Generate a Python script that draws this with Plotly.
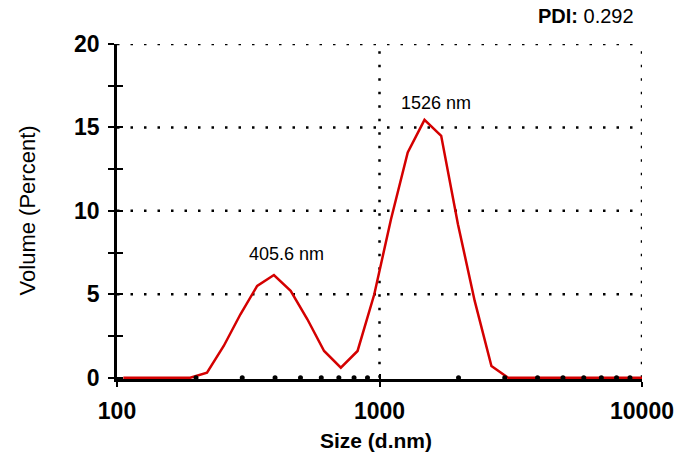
import math
import plotly.graph_objects as go

# ---- data ----
size_nm = [105.7, 122.4, 141.8, 164.2, 190.1, 220.2, 255.0, 295.3, 342.0, 396.1,
           458.7, 531.2, 615.1, 712.4, 825.0, 955.4, 1106, 1281, 1484, 1718,
           1990, 2305, 2669, 3091, 3580, 4145, 4801, 5560, 6439, 7456, 8635, 10000]
volume_pct = [0, 0, 0, 0, 0, 0.3, 1.9, 3.8, 5.5, 6.15,
              5.2, 3.5, 1.6, 0.6, 1.6, 5.0, 9.5, 13.5, 15.45, 14.5,
              9.2, 4.6, 0.7, 0, 0, 0, 0, 0, 0, 0, 0, 0]

peak_labels = ["405.6 nm", "1526 nm"]
peak_sizes = [405.6, 1526]
pdi_text = "0.292"

x_major = [100, 1000, 10000]
x_major_text = ["100", "1000", "10000"]
x_minor = [m * d for d in (100, 1000) for m in range(2, 10)]
y_major = [0, 5, 10, 15, 20]
y_grid = [5, 10, 15, 20]
x_grid = [1000, 10000]

FONT = "Liberation Sans, Arial, sans-serif"
RED = "#d40000"

fig = go.Figure()

# dotted grid
gx, gy = [], []
for v in y_grid:
    gx += [100, 10000, None]
    gy += [v, v, None]
for v in x_grid:
    gx += [v, v, None]
    gy += [0, 20, None]
fig.add_trace(go.Scatter(x=gx, y=gy, mode="lines", hoverinfo="skip", showlegend=False,
                         line=dict(color="black", width=2.5, dash="2.5px,11px")))

# data curve
fig.add_trace(go.Scatter(x=size_nm, y=volume_pct, mode="lines", showlegend=False,
                         line=dict(color=RED, width=2.5)))

# minor tick dots on the x axis
fig.add_trace(go.Scatter(x=x_minor, y=[0] * len(x_minor), mode="markers", showlegend=False,
                         hoverinfo="skip", cliponaxis=False,
                         marker=dict(color="black", size=5)))

# empty trace to create overlay axes (inside half of crossing ticks)
fig.add_trace(go.Scatter(x=[], y=[], xaxis="x2", yaxis="y2", showlegend=False))

yr = [-0.08, 20]
xr = [2, 4]

fig.update_layout(
    width=678, height=457,
    margin=dict(l=117, r=36, t=44, b=78),
    paper_bgcolor="white", plot_bgcolor="white",
    font=dict(family=FONT, color="black"),
    xaxis=dict(type="log", range=xr, tickvals=x_major, ticktext=x_major_text,
               ticks="outside", ticklen=5, tickwidth=2, tickcolor="black",
               showline=True, linecolor="black", linewidth=2.5, showgrid=False,
               zeroline=False, layer="below traces", automargin=False,
               tickfont=dict(size=23, family=FONT, weight="bold"),
               ticklabelstandoff=5),
    yaxis=dict(range=yr, tickvals=y_major, ticks="outside", ticklen=6, tickwidth=2,
               tickcolor="black", showline=True, linecolor="black", linewidth=2.5,
               showgrid=False, zeroline=False, layer="below traces", automargin=False,
               minor=dict(tickvals=[2.5, 7.5, 12.5, 17.5], ticks="outside", ticklen=6,
                          tickwidth=2, tickcolor="black"),
               tickfont=dict(size=23, family=FONT, weight="bold"),
               ticklabelstandoff=4),
    xaxis2=dict(type="log", range=xr, overlaying="x", anchor="y2", tickvals=x_grid,
                ticks="inside", ticklen=5, tickwidth=2, tickcolor="black",
                showticklabels=False, showline=False, showgrid=False, zeroline=False,
                automargin=False),
    yaxis2=dict(range=yr, overlaying="y", anchor="x2", side="left",
                tickvals=[0, 2.5, 5, 7.5, 10, 12.5, 15, 17.5, 20],
                ticks="inside", ticklen=6, tickwidth=2, tickcolor="black",
                showticklabels=False, showline=False, showgrid=False, zeroline=False,
                automargin=False),
)

# peak labels
ann_y = [7.4, 16.46]
ann_shift = [10, 8]
for lab, s, yy, sh in zip(peak_labels, peak_sizes, ann_y, ann_shift):
    fig.add_annotation(x=math.log10(s), y=yy, xref="x", yref="y", text=lab,
                       showarrow=False, xshift=sh, font=dict(size=18, family=FONT))

# axis titles
fig.add_annotation(text="<b>Size (d.nm)</b>", xref="paper", yref="paper",
                   x=0.4933, y=-0.1827, yanchor="middle", showarrow=False,
                   font=dict(size=21, family=FONT))
fig.add_annotation(text="Volume (Percent)", xref="paper", yref="paper",
                   x=-0.171, y=0.504, textangle=-90, showarrow=False,
                   xanchor="center", yanchor="middle",
                   font=dict(size=22, family=FONT))
fig.add_annotation(text="<b>PDI:</b> " + pdi_text, xref="paper", yref="paper",
                   x=0.9886, y=1.083, xanchor="right", yanchor="middle",
                   showarrow=False, font=dict(size=20, family=FONT))

fig.write_html("out.html")
